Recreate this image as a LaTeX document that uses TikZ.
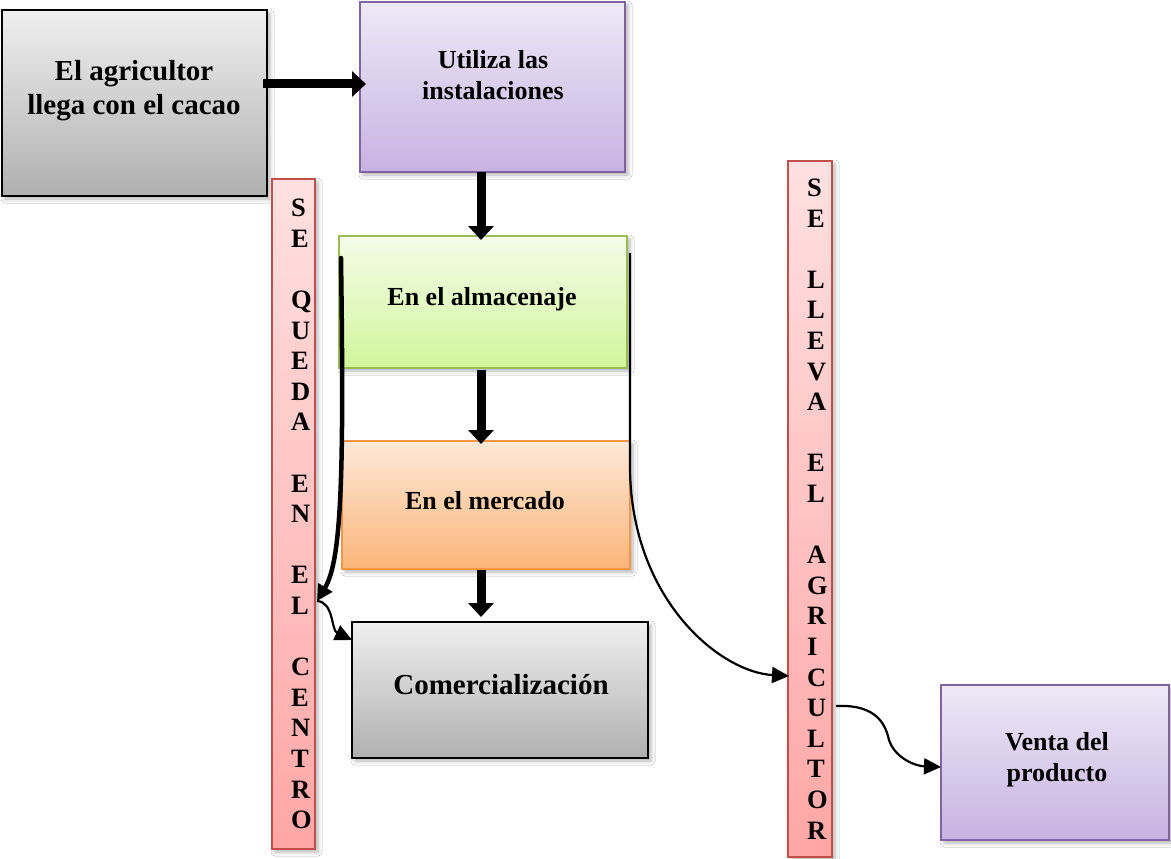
\documentclass[tikz,border=0pt]{standalone}
\usepackage{fontspec}
\setmainfont{Liberation Serif}
\usetikzlibrary{arrows.meta,shadows.blur}

\definecolor{grayT}{HTML}{EFEFEF}
\definecolor{grayB}{HTML}{B0B0B0}
\definecolor{lilaT}{HTML}{EEE9F7}
\definecolor{lilaB}{HTML}{C7B2E2}
\definecolor{lilaD}{HTML}{8064A2}
\definecolor{verdeT}{HTML}{F3FCE8}
\definecolor{verdeB}{HTML}{D2F59C}
\definecolor{verdeD}{HTML}{9BBB59}
\definecolor{narT}{HTML}{FDE8D7}
\definecolor{narB}{HTML}{FBB57A}
\definecolor{narD}{HTML}{F79646}
\definecolor{rosaT}{HTML}{FFE0E0}
\definecolor{rosaB}{HTML}{FFA6A6}
\definecolor{rosaD}{HTML}{C0504D}

\begin{document}
\begin{tikzpicture}[x=1pt,y=-1pt,
  box/.style={rectangle, line width=1.5pt, inner sep=0pt, outer sep=0pt,
    anchor=north west,
    blur shadow={shadow xshift=3pt, shadow yshift=-3pt,
      shadow blur radius=4pt, shadow opacity=30}},
  graybox/.style={box, draw=black, top color=grayT, bottom color=grayB},
  lilabox/.style={box, draw=lilaD, top color=lilaT, bottom color=lilaB},
  verdebox/.style={box, draw=verdeD, top color=verdeT, bottom color=verdeB},
  narbox/.style={box, draw=narD, top color=narT, bottom color=narB},
  rosabar/.style={box, line width=2pt, draw=rosaD, top color=rosaT, bottom color=rosaB},
  lbl/.style={align=center, inner sep=0pt,
    font=\bfseries\fontsize{26}{30.6}\selectfont},
  biglbl/.style={lbl, font=\bfseries\fontsize{29}{34}\selectfont},
  barlbl/.style={align=left, inner sep=0pt, anchor=west,
    font=\bfseries\fontsize{26.5}{30.6}\selectfont},
  fat/.style={line width=9pt, -{Triangle[width=25pt,length=14pt]}},
  heavy/.style={line width=4.5pt, line cap=round, -{Triangle[width=16pt,length=16pt]}},
  slim/.style={line width=2.2pt, -{Triangle[width=16pt,length=17pt]}},
]
\fill[white] (0,0) rectangle (1171,859);
\useasboundingbox (0,0) rectangle (1171,859);

% boxes
\node[graybox, minimum width=265pt, minimum height=186pt] (agr) at (2,10) {};
\node[lilabox, minimum width=265pt, minimum height=170pt] (inst) at (360,2) {};
\node[rosabar, minimum width=43pt, minimum height=670pt] (lbar) at (272,179) {};
\node[verdebox, minimum width=288pt, minimum height=132pt] (almac) at (339,236) {};
\node[narbox, minimum width=288pt, minimum height=128pt] (merc) at (342,441) {};
\node[graybox, minimum width=296pt, minimum height=136pt] (comer) at (352,622) {};
\node[rosabar, minimum width=44pt, minimum height=696pt] (rbar) at (788,161) {};
\node[lilabox, minimum width=228pt, minimum height=155pt] (venta) at (941,685) {};

% texts
\node[biglbl] (tagr) at (134,91) {El agricultor\\llega con el cacao};
\node[lbl] (tinst) at (493,75) {Utiliza las\\instalaciones};
\node[lbl] (talmac) at (482,299) {En el almacenaje};
\node[lbl] (tmerc) at (485,501) {En el mercado};
\node[biglbl] (tcomer) at (501,685) {Comercializaci\'on};
\node[lbl] (tventa) at (1057,760) {Venta del\\producto};
\node[barlbl] (tlbar) at (291,514)
  {S\\E\\~\\Q\\U\\E\\D\\A\\~\\E\\N\\~\\E\\L\\~\\C\\E\\N\\T\\R\\O};
\node[barlbl] (trbar) at (807,509)
  {S\\E\\~\\L\\L\\E\\V\\A\\~\\E\\L\\~\\A\\G\\R\\I\\C\\U\\L\\T\\O\\R};

% main flow
\coordinate (colx) at (481,0);
\coordinate (rowy) at (0,84);
\draw[fat] ([xshift=-4pt]agr.east |- rowy) -- ([xshift=6pt]inst.west |- rowy);
\draw[fat] (inst.south -| colx) -- ([yshift=-4pt]almac.north -| colx);
\draw[fat] ([yshift=-2pt]almac.south -| colx) -- ([yshift=-3pt]merc.north -| colx);
\draw[fat] ([yshift=-1pt]merc.south -| colx) -- ([yshift=5pt]comer.north -| colx);

% stays at the centre
\coordinate (qs) at (341,258);
\coordinate (qe) at (317,601);
\draw[heavy] (qs) .. controls (344,470) and (342,560) .. (qe);
\draw[slim] (qe) .. controls (334,602) and (331,630) .. ([yshift=-18pt]comer.north west);

% taken by the farmer
\coordinate (rs) at (630,253);
\coordinate (rm) at (630,470);
\coordinate (re) at (789,676);
\coordinate (rv) at (836,706);
\draw[slim] (rs) -- (rm) .. controls (632,600) and (720,672) .. (re);
\draw[slim] (rv) .. controls (880,704) and (886,728) .. (889,740)
  .. controls (895,758) and (915,766) .. ([yshift=-4.5pt]venta.west);
\end{tikzpicture}
\end{document}
